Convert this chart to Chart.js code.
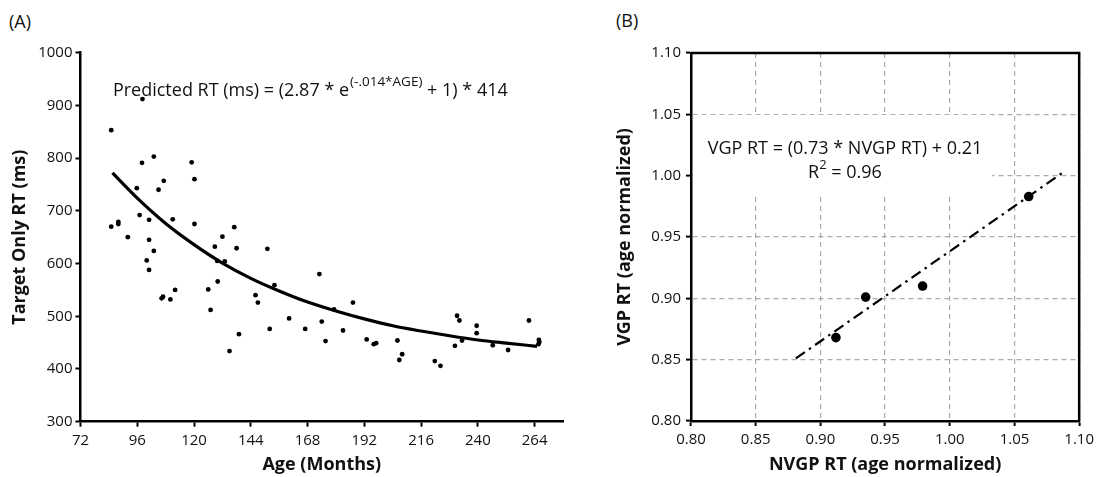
<!DOCTYPE html>
<html>
<head>
<meta charset="utf-8">
<script src="https://cdn.jsdelivr.net/npm/chart.js@4.4.1/dist/chart.umd.min.js"></script>
<style>
  html, body { margin: 0; padding: 0; background: #fff; }
  body { width: 1099px; height: 477px; position: relative; overflow: hidden; font-family: 'Open Sans', sans-serif; }
  .panel { position: absolute; top: 0; height: 477px; }
  #wrapA { left: 0; width: 575px; }
  #wrapB { left: 575px; width: 524px; }
  .tag { position: absolute; font-size: 18px; line-height: 1; color: #111; }
</style>
</head>
<body>
<div class="tag" style="left:9px;top:12px">(A)</div>
<div class="tag" style="left:616px;top:11px">(B)</div>
<div class="panel" id="wrapA"><canvas id="chartA" width="575" height="477"></canvas></div>
<div class="panel" id="wrapB"><canvas id="chartB" width="524" height="477"></canvas></div>
<script>
// Panel A – target-only RT by age
const ageMonths = [85.0, 85.0, 88.0, 88.0, 92.0, 95.8, 97.0, 98.0, 98.2, 100.0,
  101.0, 101.0, 101.0, 103.0, 103.0, 105.0, 106.3, 106.9, 107.2, 110.0,
  111.0, 112.0, 119.0, 120.2, 120.2, 126.0, 127.0, 128.8, 129.8, 130.0,
  132.0, 133.0, 135.0, 137.0, 138.0, 139.0, 146.0, 147.0, 151.0, 152.0,
  154.0, 160.2, 167.0, 173.0, 174.0, 175.6, 179.2, 183.0, 187.2, 193.0,
  196.0, 197.0, 206.0, 206.8, 208.0, 221.8, 224.2, 230.3, 231.2, 232.2,
  233.3, 239.5, 239.5, 246.3, 252.8, 261.6, 265.8, 266.0, 265.6];
const targetRT = [853, 670, 679, 675, 650, 743, 692, 791, 912, 606,
  683, 645, 588, 803, 624, 740, 534, 537, 757, 532,
  684, 550, 792, 760, 675, 551, 512, 632, 605, 566,
  651, 604, 434, 669, 629, 466, 540, 526, 628, 476,
  559, 496, 476, 580, 490, 453, 513, 473, 526, 456,
  447, 449, 454, 417, 428, 415, 406, 444, 501, 492,
  454, 482, 468, 445, 436, 492, 455, 451, 447];
// fitted curve, read along its length
const fitAge = [85.5, 96, 108, 120, 132, 144, 156, 168, 180, 192, 204, 216, 228, 240, 252, 265];
const fitRT = [772, 724, 676, 636, 601, 572, 548, 527, 510, 495, 482, 472, 463, 455, 449, 443];
const ageTicks = [72, 96, 120, 144, 168, 192, 216, 240, 264];

// Panel B – age normalized RT, VGP vs NVGP
const nvgpRT = [0.912, 0.935, 0.979, 1.061];
const vgpRT = [0.868, 0.901, 0.910, 0.983];
const lineNVGP = [0.881, 1.088];
const lineVGP = [0.851, 1.003];
const normTicks = [0.80, 0.85, 0.90, 0.95, 1.00, 1.05, 1.10];

const INK = '#111';
const tickFont = { family: "'Open Sans', sans-serif", size: 15 };
const titleFont = { family: "'Open Sans', sans-serif", size: 18, weight: 'bold' };

function pts(xs, ys) { return xs.map((v, i) => ({ x: v, y: ys[i] })); }

// equation text in panel A
const eqA = {
  id: 'eqA',
  afterDatasetsDraw(chart) {
    const { ctx, scales: { x, y } } = chart;
    let px = x.getPixelForValue(85.7);
    const py = y.getPixelForValue(918);
    ctx.save();
    ctx.fillStyle = INK;
    ctx.textBaseline = 'alphabetic';
    ctx.textAlign = 'left';
    const big = "18px 'Open Sans', sans-serif";
    const small = "13.5px 'Open Sans', sans-serif";
    ctx.font = big;
    const s1 = 'Predicted RT (ms) = (2.87 * e';
    ctx.fillText(s1, px, py);
    px += ctx.measureText(s1).width + 1;
    ctx.font = small;
    const s2 = '(-.014*AGE)';
    ctx.fillText(s2, px, py - 9.5);
    px += ctx.measureText(s2).width;
    ctx.font = big;
    ctx.fillText(' + 1) * 414', px, py);
    ctx.restore();
  }
};

new Chart(document.getElementById('chartA'), {
  type: 'scatter',
  data: {
    datasets: [
      { data: pts(ageMonths, targetRT), pointRadius: 2.4, pointBackgroundColor: '#000', pointBorderWidth: 0 },
      { type: 'line', data: pts(fitAge, fitRT), borderColor: '#000', borderWidth: 3.2,
        pointRadius: 0, cubicInterpolationMode: 'monotone', fill: false }
    ]
  },
  options: {
    responsive: false,
    animation: false,
    events: [],
    layout: { padding: { left: 9, right: 12, top: 52.7, bottom: 0 } },
    plugins: { legend: { display: false }, tooltip: { enabled: false } },
    scales: {
      x: {
        type: 'linear', min: 72, max: 276,
        afterBuildTicks: s => { s.ticks = ageTicks.map(v => ({ value: v })); },
        afterFit: s => { s.height = 55.3; },
        ticks: { font: tickFont, color: INK, padding: 5, maxRotation: 0, callback: v => String(v) },
        grid: { drawOnChartArea: false, drawTicks: true, tickLength: 5, tickColor: '#000', tickWidth: 2 },
        border: { color: '#000', width: 2.5 },
        title: { display: true, text: 'Age (Months)', font: titleFont, color: INK, padding: { top: 0, bottom: 1 } }
      },
      y: {
        type: 'linear', min: 300, max: 1000,
        ticks: { stepSize: 100, font: tickFont, color: INK, padding: 3, callback: v => String(v) },
        afterFit: s => { s.width = 71.5; },
        grid: { drawOnChartArea: false, drawTicks: true, tickLength: 5, tickColor: '#000', tickWidth: 2 },
        border: { color: '#000', width: 2.5 },
        title: { display: true, text: 'Target Only RT (ms)', font: titleFont, color: INK, padding: { top: 0, bottom: 0 } }
      }
    }
  },
  plugins: [eqA]
});

// white box + regression text in panel B, then frame
const eqB = {
  id: 'eqB',
  beforeDatasetsDraw(chart) {
    const { ctx, chartArea: a, scales: { x, y } } = chart;
    const x1 = x.getPixelForValue(1.0327);
    const yTop = y.getPixelForValue(1.0495);
    const yBot = y.getPixelForValue(0.986);
    ctx.save();
    ctx.fillStyle = '#fff';
    ctx.fillRect(a.left + 2, yTop, x1 - a.left - 2, yBot - yTop);
    ctx.fillStyle = INK;
    ctx.textAlign = 'center';
    ctx.textBaseline = 'middle';
    const cx = x.getPixelForValue(0.919);
    ctx.font = "18px 'Open Sans', sans-serif";
    ctx.fillText('VGP RT = (0.73 * NVGP RT) + 0.21', cx, y.getPixelForValue(1.022));
    const l2y = y.getPixelForValue(1.0024);
    const r = 'R', rest = ' = 0.96';
    const wR = ctx.measureText(r).width, wRest = ctx.measureText(rest).width;
    ctx.font = "13px 'Open Sans', sans-serif";
    const w2 = ctx.measureText('2').width;
    const start = cx - (wR + w2 + wRest) / 2;
    ctx.textAlign = 'left';
    ctx.fillText('2', start + wR, l2y - 7);
    ctx.font = "18px 'Open Sans', sans-serif";
    ctx.fillText(r, start, l2y);
    ctx.fillText(rest, start + wR + w2, l2y);
    ctx.restore();
  },
  afterDraw(chart) {
    const { ctx, chartArea: a } = chart;
    ctx.save();
    ctx.strokeStyle = '#000';
    ctx.lineWidth = 2.5;
    ctx.beginPath();
    ctx.moveTo(a.left, a.top);
    ctx.lineTo(a.right, a.top);
    ctx.lineTo(a.right, a.bottom);
    ctx.stroke();
    ctx.restore();
  }
};

const gridB = { drawOnChartArea: true, drawTicks: true, tickLength: 5, color: '#ababab', lineWidth: 1.2,
  tickColor: '#000', tickWidth: 2, tickBorderDash: [] };

new Chart(document.getElementById('chartB'), {
  type: 'scatter',
  data: {
    datasets: [
      { data: pts(nvgpRT, vgpRT), pointRadius: 4.8, pointBackgroundColor: '#000', pointBorderWidth: 0 },
      { type: 'line', data: pts(lineNVGP, lineVGP), borderColor: '#000', borderWidth: 2.2,
        borderDash: [11, 5, 2.5, 5], pointRadius: 0, fill: false }
    ]
  },
  options: {
    responsive: false,
    animation: false,
    events: [],
    layout: { padding: { left: 39, right: 16, top: 53, bottom: 0 } },
    plugins: { legend: { display: false }, tooltip: { enabled: false } },
    scales: {
      x: {
        type: 'linear', min: 0.8, max: 1.1,
        afterBuildTicks: s => { s.ticks = normTicks.map(v => ({ value: v })); },
        afterFit: s => { s.height = 56; },
        ticks: { font: tickFont, color: INK, padding: 5, maxRotation: 0, callback: v => v.toFixed(2) },
        grid: gridB,
        border: { color: '#000', width: 2.5, dash: [5, 4] },
        title: { display: true, text: 'NVGP RT (age normalized)', font: titleFont, color: INK, padding: { top: 0, bottom: 1 } }
      },
      y: {
        type: 'linear', min: 0.8, max: 1.1,
        afterBuildTicks: s => { s.ticks = normTicks.map(v => ({ value: v })); },
        afterFit: s => { s.width = 77; },
        ticks: { font: tickFont, color: INK, padding: 5, callback: v => v.toFixed(2) },
        grid: gridB,
        border: { color: '#000', width: 2.5, dash: [5, 4] },
        title: { display: true, text: 'VGP RT (age normalized)', font: titleFont, color: INK, padding: { top: 0, bottom: 0 } }
      }
    }
  },
  plugins: [eqB]
});
</script>
</body>
</html>
